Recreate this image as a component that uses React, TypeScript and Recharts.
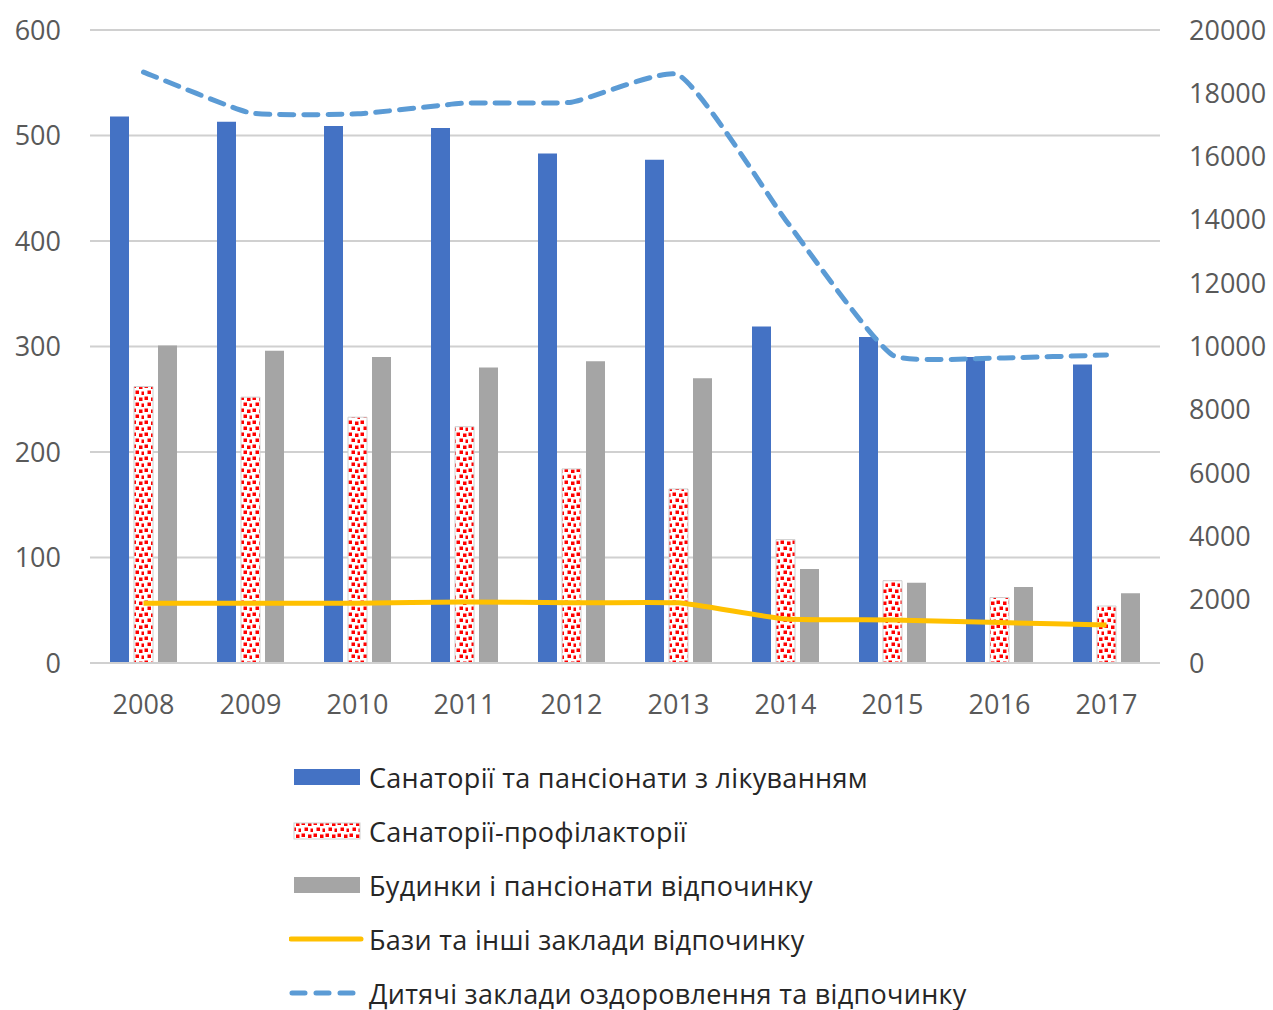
import React from "react";
import {
  ComposedChart,
  Bar,
  Line,
  XAxis,
  YAxis,
  CartesianGrid,
} from "recharts";

const years = ["2008", "2009", "2010", "2011", "2012", "2013", "2014", "2015", "2016", "2017"];
const sanatoria = [518, 513, 509, 507, 483, 477, 319, 309, 290, 283];
const prophylactoria = [262, 252, 233, 224, 184, 165, 117, 78, 62, 54];
const restHouses = [301, 296, 290, 280, 286, 270, 89, 76, 72, 66];
const bases = [1890, 1890, 1890, 1930, 1900, 1900, 1390, 1360, 1280, 1200];
const children = [18670, 17380, 17350, 17690, 17720, 18580, 14000, 9730, 9640, 9730];

const leftTicks = [0, 100, 200, 300, 400, 500, 600];
const rightTicks = [0, 2000, 4000, 6000, 8000, 10000, 12000, 14000, 16000, 18000, 20000];

const names = [
  "Санаторії та пансіонати з лікуванням",
  "Санаторії-профілакторії",
  "Будинки і пансіонати відпочинку",
  "Бази та інші заклади відпочинку",
  "Дитячі заклади оздоровлення та відпочинку",
];

const data = years.map((year, i) => ({
  year,
  sanatoria: sanatoria[i],
  prophylactoria: prophylactoria[i],
  restHouses: restHouses[i],
  bases: bases[i],
  children: children[i],
}));

const FONT = "'Open Sans', sans-serif";
const tickStyle = { fill: "#595959", fontSize: 27, fontFamily: FONT };

// Excel-like smoothing: bezier arms along the neighbour direction,
// scaled by each segment's own length so long drops don't overshoot
const excelSmooth = (context: any) => {
  let pts: [number, number][] = [];
  const k = 0.14;
  const tangent = (i: number) => {
    const a = pts[i - 1] || pts[i];
    const b = pts[i + 1] || pts[i];
    const dx = b[0] - a[0];
    const dy = b[1] - a[1];
    const len = Math.hypot(dx, dy) || 1;
    return [dx / len, dy / len];
  };
  return {
    areaStart() {},
    areaEnd() {},
    lineStart() {
      pts = [];
    },
    point(x: number, y: number) {
      pts.push([+x, +y]);
    },
    lineEnd() {
      if (!pts.length) return;
      context.moveTo(pts[0][0], pts[0][1]);
      for (let i = 0; i < pts.length - 1; i++) {
        const p1 = pts[i];
        const p2 = pts[i + 1];
        const seg = Math.hypot(p2[0] - p1[0], p2[1] - p1[1]);
        const t1 = tangent(i);
        const t2 = tangent(i + 1);
        context.bezierCurveTo(
          p1[0] + t1[0] * seg * k,
          p1[1] + t1[1] * seg * k,
          p2[0] - t2[0] * seg * k,
          p2[1] - t2[1] * seg * k,
          p2[0],
          p2[1]
        );
      }
    },
  };
};

// red dotted fill like the Excel pattern
const DotPattern = ({ id }: { id: string }) => (
  <pattern id={id} width={12} height={12} patternUnits="userSpaceOnUse">
    <rect width={12} height={12} fill="#fff" />
    <rect x={0.5} y={0.5} width={3.5} height={3.5} fill="#f00" />
    <rect x={7} y={1.5} width={3.5} height={3.5} fill="#f00" />
    <rect x={3.5} y={6.5} width={3.5} height={3.5} fill="#f00" />
    <rect x={9.5} y={7.5} width={3} height={3.5} fill="#f00" />
  </pattern>
);

const LegendIcon = ({ idx }: { idx: number }) => {
  if (idx === 3) {
    return (
      <svg width={76} height={20}>
        <line x1={2} y1={10} x2={72} y2={10} stroke="#FFC000" strokeWidth={5} strokeLinecap="round" />
      </svg>
    );
  }
  if (idx === 4) {
    return (
      <svg width={76} height={20}>
        <line x1={3} y1={10} x2={72} y2={10} stroke="#5B9BD5" strokeWidth={5} strokeDasharray="13 11" strokeLinecap="round" />
      </svg>
    );
  }
  const fills = ["#4472C4", "url(#legDots)", "#A5A5A5"];
  return (
    <svg width={76} height={20}>
      <defs>
        <DotPattern id="legDots" />
      </defs>
      <rect x={5} y={2} width={66} height={16} fill={fills[idx]} stroke={idx === 1 ? "#d0d0d0" : "none"} />
    </svg>
  );
};

export default function App() {
  return (
    <div style={{ position: "absolute", left: 0, top: 0, width: 1273, height: 1010, background: "#fff", overflow: "hidden" }}>
      <ComposedChart
        width={1273}
        height={740}
        data={data}
        margin={{ top: 30, right: 0, left: 0, bottom: 40 }}
        barSize={19}
        barGap={5}
      >
        <defs>
          <DotPattern id="redDots" />
        </defs>
        <CartesianGrid yAxisId="left" vertical={false} stroke="#d0d0d0" strokeWidth={2} />
        <XAxis
          dataKey="year"
          height={37}
          axisLine={{ stroke: "#d0d0d0", strokeWidth: 2 }}
          tickLine={false}
          tickSize={0}
          tickMargin={32}
          tick={tickStyle}
        />
        <YAxis
          yAxisId="left"
          orientation="left"
          width={90}
          domain={[0, 600]}
          ticks={leftTicks}
          axisLine={false}
          tickLine={false}
          tickSize={0}
          tickMargin={29}
          tick={tickStyle}
        />
        <YAxis
          yAxisId="right"
          orientation="right"
          width={113}
          domain={[0, 20000]}
          ticks={rightTicks}
          axisLine={false}
          tickLine={false}
          tickSize={0}
          tickMargin={29}
          tick={tickStyle}
        />
        <Bar yAxisId="left" dataKey="sanatoria" name={names[0]} fill="#4472C4" isAnimationActive={false} />
        <Bar yAxisId="left" dataKey="prophylactoria" name={names[1]} fill="url(#redDots)" stroke="#d0d0d0" strokeWidth={1} isAnimationActive={false} />
        <Bar yAxisId="left" dataKey="restHouses" name={names[2]} fill="#A5A5A5" isAnimationActive={false} />
        <Line
          yAxisId="right"
          type={excelSmooth as any}
          dataKey="bases"
          name={names[3]}
          stroke="#FFC000"
          strokeWidth={5}
          dot={false}
          activeDot={false}
          isAnimationActive={false}
        />
        <Line
          yAxisId="right"
          type={excelSmooth as any}
          dataKey="children"
          name={names[4]}
          stroke="#5B9BD5"
          strokeWidth={5}
          strokeDasharray="14 10"
          strokeLinecap="round"
          dot={false}
          activeDot={false}
          isAnimationActive={false}
        />
      </ComposedChart>
      <div style={{ position: "absolute", left: 289, top: 750, fontFamily: FONT, fontSize: 27, color: "#262626" }}>
        {names.map((n, i) => (
          <div key={n} style={{ display: "flex", alignItems: "center", height: 54, whiteSpace: "nowrap" }}>
            <LegendIcon idx={i} />
            <span style={{ marginLeft: 4, letterSpacing: 0.3 }}>{n}</span>
          </div>
        ))}
      </div>
    </div>
  );
}
